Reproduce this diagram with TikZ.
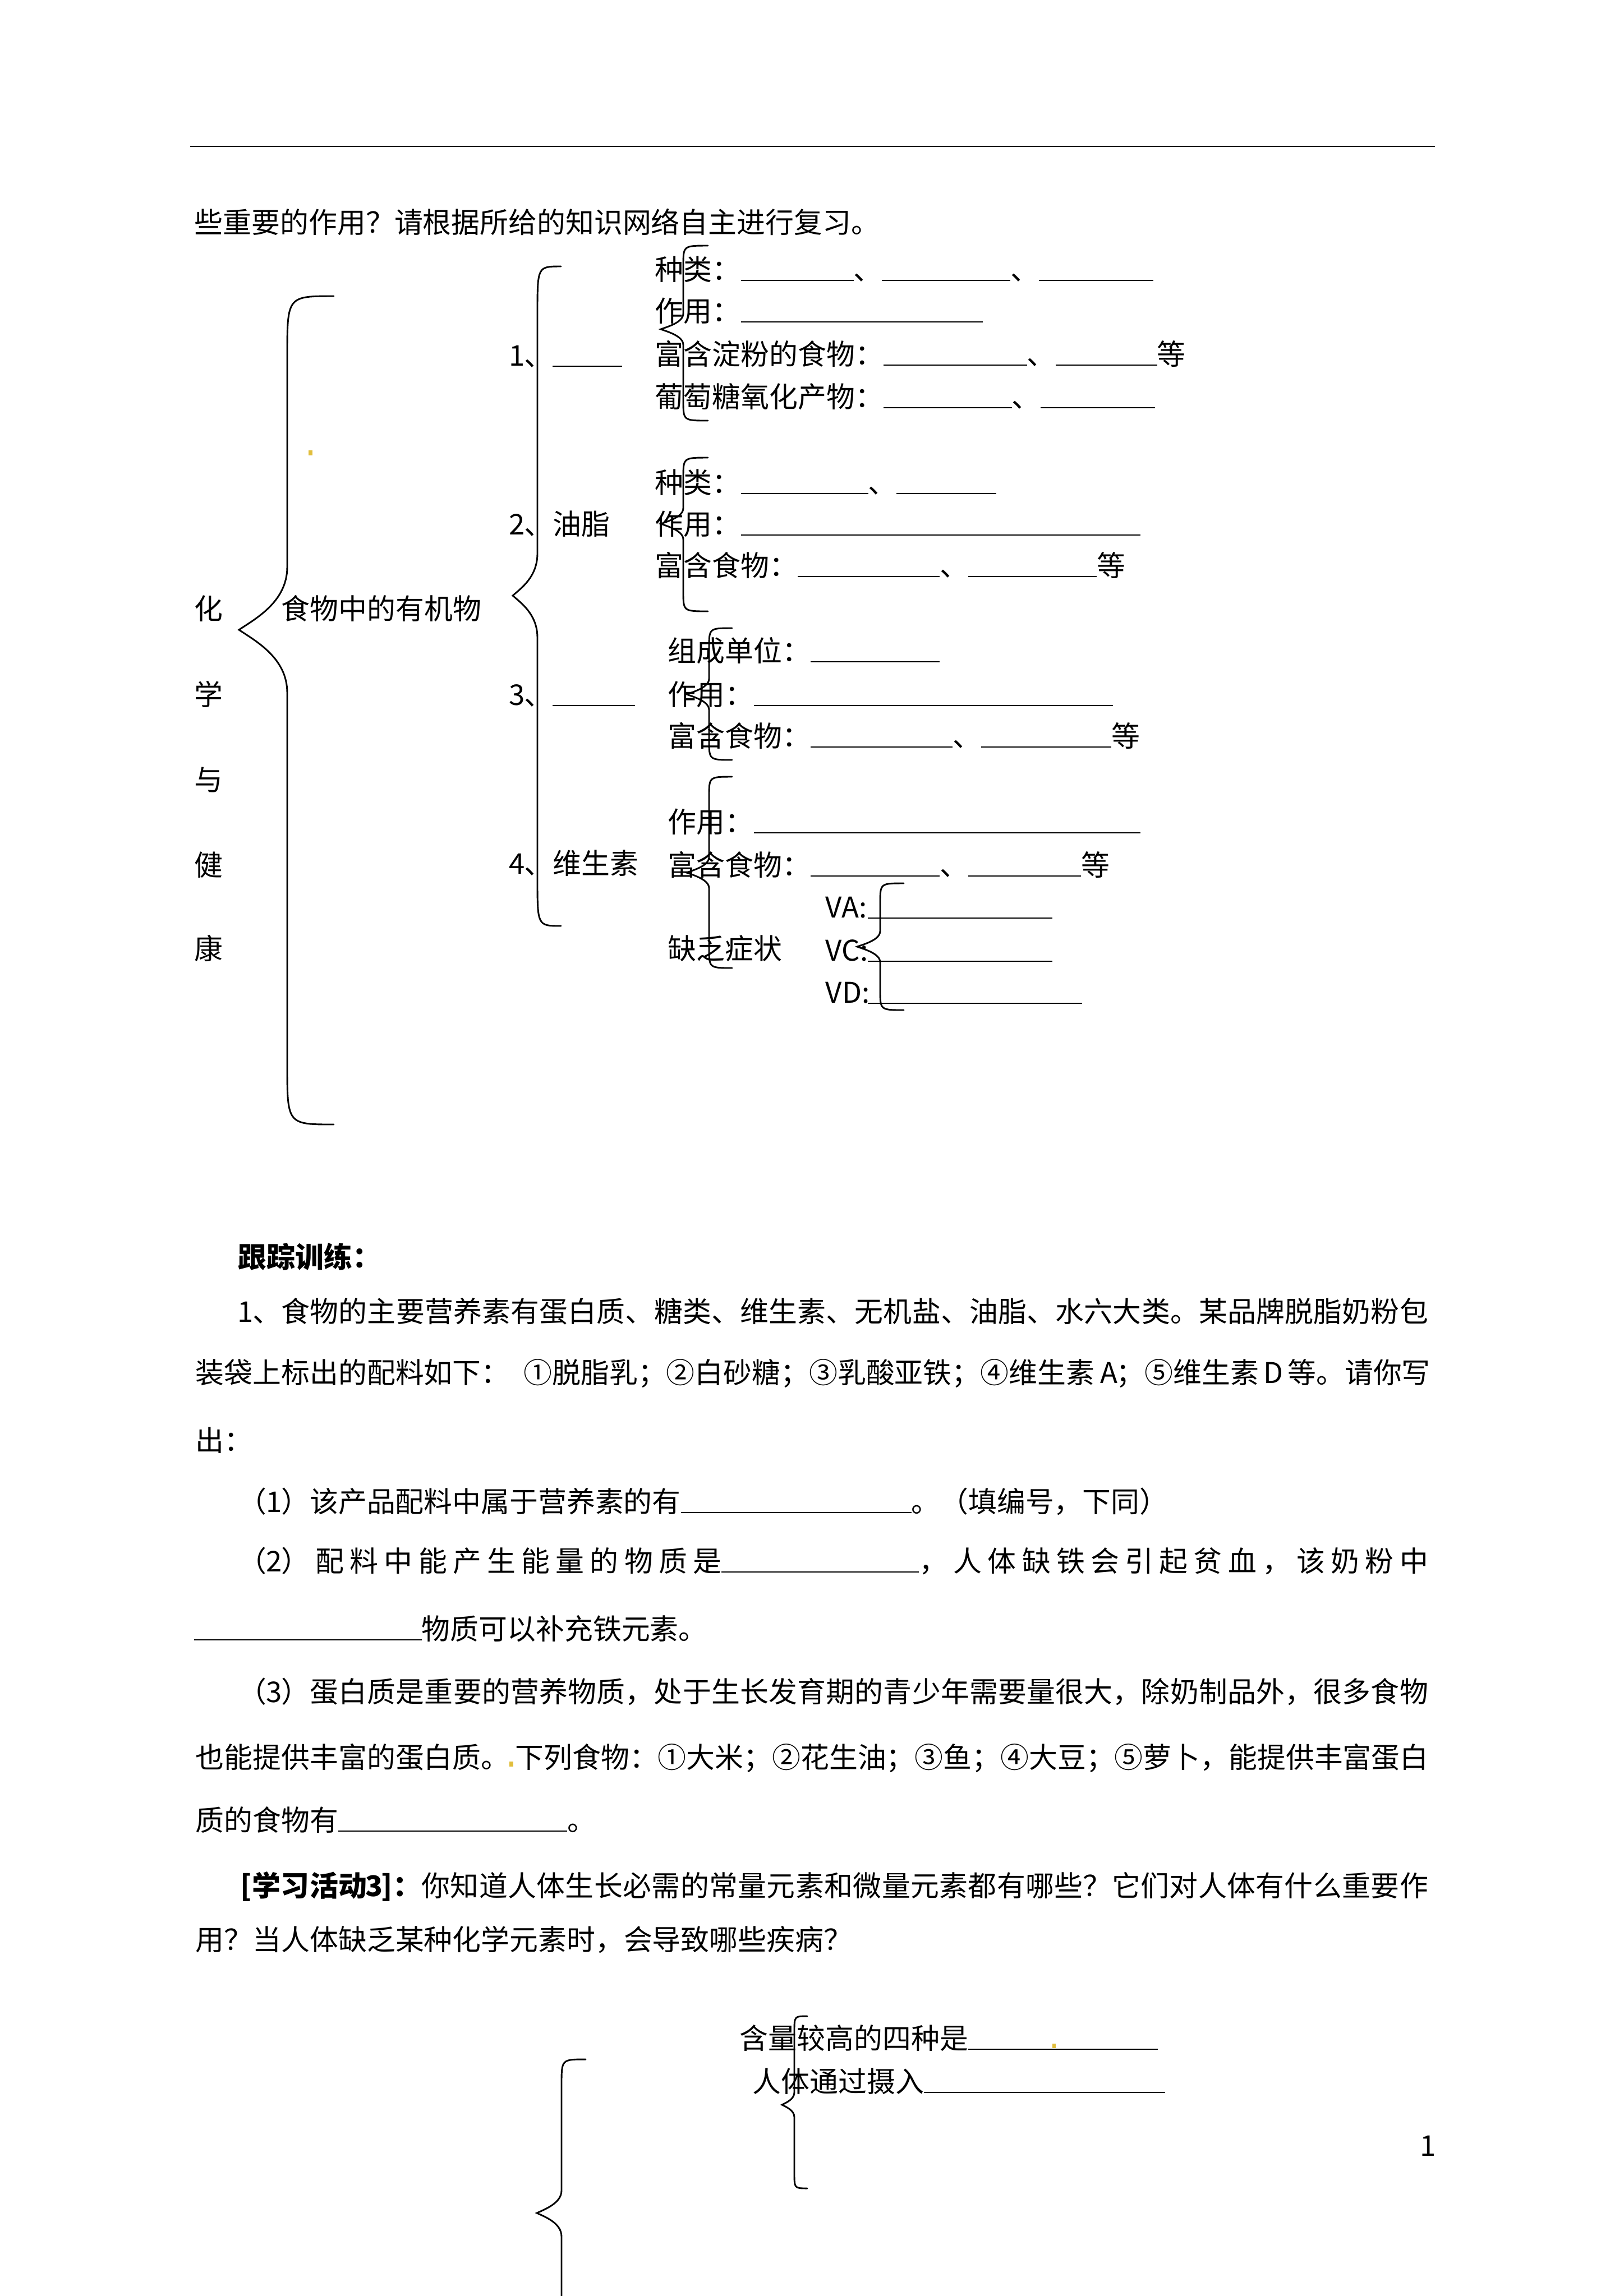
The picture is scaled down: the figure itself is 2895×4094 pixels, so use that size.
\documentclass[tikz,border=0pt]{standalone}
\usepackage{fontspec}
\setmainfont{Noto Sans CJK SC}
\newlength\pxu \setlength\pxu{0.072539mm}
\newcommand\bk[1]{\rule[-0.04em]{#1\pxu}{0.45pt}}
\newcommand\hw[1]{\makebox[25.5\pxu][c]{#1}}
\newcommand\jl[2]{\hbox to #1\pxu{#2}}
\newcommand\cjkglue{\hskip 0pt plus 1fil\relax}
% character classes for inter-character stretching
\newcount\cjkc
\cjkc="4E00
\loop\ifnum\cjkc<"A000 \XeTeXcharclass\cjkc=1 \advance\cjkc by 1 \repeat
\cjkc="2460
\loop\ifnum\cjkc<"2474 \XeTeXcharclass\cjkc=1 \advance\cjkc by 1 \repeat
\XeTeXcharclass"3001=3
\XeTeXcharclass"3002=3
\XeTeXcharclass"FF0C=3
\XeTeXcharclass"FF1A=3
\XeTeXcharclass"FF1B=3
\XeTeXcharclass"FF1F=3
\XeTeXcharclass"FF09=3
\XeTeXcharclass"FF08=2
\XeTeXinterchartokenstate=1
\XeTeXinterchartoks 1 1 = {\cjkglue}
\XeTeXinterchartoks 1 2 = {\cjkglue}
\XeTeXinterchartoks 1 3 = {\cjkglue}
\XeTeXinterchartoks 2 1 = {\cjkglue}
\XeTeXinterchartoks 3 1 = {\cjkglue}
\XeTeXinterchartoks 3 2 = {\cjkglue}
\XeTeXinterchartoks 3 3 = {\cjkglue}
\XeTeXinterchartoks 0 1 = {\cjkglue}
\XeTeXinterchartoks 1 0 = {\cjkglue}
\XeTeXinterchartoks 0 2 = {\cjkglue}
\XeTeXinterchartoks 3 0 = {\cjkglue}
\XeTeXinterchartoks 0 3 = {\cjkglue}
\definecolor{anch}{RGB}{225,190,60}
\tikzset{
  txt/.style={anchor=base west, inner sep=0pt, font=\fontsize{10.5pt}{12pt}\selectfont},
  br/.style={line width=0.6pt, line cap=round},
  toprule/.style={line width=0.5pt}
}
% xEnd, xLine, xTip, yTop, yTip, yBot, r1, r2
\newcommand\cbrace[8]{\draw[br] (#1,#4) .. controls (#2,#4) .. (#2,#4+#7) -- (#2,#5-#8)
  .. controls (#2,{#5-0.45*#8}) and ({#3+0.35*(#2-#3)},{#5-0.18*#8}) .. (#3,#5)
  .. controls ({#3+0.35*(#2-#3)},{#5+0.18*#8}) and (#2,{#5+0.45*#8}) .. (#2,#5+#8)
  -- (#2,#6-#7) .. controls (#2,#6) .. (#1,#6);}
\begin{document}
\begin{tikzpicture}[x=0.072539mm, y=-0.072539mm]
\useasboundingbox (0,0) rectangle (2895,4094);
\fill[white] (0,0) rectangle (2895,4094);
\draw[toprule] (339,261) -- (2558,261);

\node[txt] (hdr) at (346,415) {些重要的作用？请根据所给的知识网络自主进行复习。};

% left vertical title
\node[txt] (c1) at (346,1104) {化};
\node[txt] (c2) at (346,1257) {学};
\node[txt] (c3) at (346,1409) {与};
\node[txt] (c4) at (346,1561) {健};
\node[txt] (c5) at (346,1710) {康};
\node[txt] (org) at (501,1104) {食物中的有机物};

% braces upper part
\cbrace{595}{512}{426}{528}{1123}{2005}{108}{112}
\cbrace{1000}{958}{914}{475}{1062}{1651}{85}{75}
\cbrace{1262}{1218}{1178}{438}{587}{750}{36}{28}
\cbrace{1262}{1218}{1178}{816}{934}{1090}{36}{28}
\cbrace{1305}{1264}{1224}{1120}{1238}{1355}{36}{28}
\cbrace{1305}{1264}{1224}{1385}{1556}{1726}{36}{28}
\cbrace{1611}{1569}{1528}{1575}{1688}{1801}{36}{28}

\fill[anch] (550,803) rectangle (557,812);

% second level labels
\node[txt] (n1) at (908,652) {\hw{1}、\bk{124}};
\node[txt] (n2) at (908,953) {\hw{2}、油脂};
\node[txt] (n3) at (908,1257) {\hw{3}、\bk{147}};
\node[txt] (n4) at (908,1558) {\hw{4}、维生素};

% group 1
\node[txt] (g1a) at (1167,499) {种类：\bk{201}、\bk{229}、\bk{204}};
\node[txt] (g1b) at (1167,573) {作用：\bk{431}};
\node[txt] (g1c) at (1167,650) {富含淀粉的食物：\bk{256}、\bk{181}等};
\node[txt] (g1d) at (1167,726) {葡萄糖氧化产物：\bk{229}、\bk{204}};
% group 2
\node[txt] (g2a) at (1167,879) {种类：\bk{227}、\bk{178}};
\node[txt] (g2b) at (1167,953) {作用：\bk{712}};
\node[txt] (g2c) at (1167,1027) {富含食物：\bk{253}、\bk{229}等};
% group 3
\node[txt] (g3a) at (1190,1179) {组成单位：\bk{230}};
\node[txt] (g3b) at (1190,1257) {作用：\bk{640}};
\node[txt] (g3c) at (1190,1331) {富含食物：\bk{253}、\bk{232}等};
% group 4
\node[txt] (g4a) at (1190,1484) {作用：\bk{689}};
\node[txt] (g4b) at (1190,1561) {富含食物：\bk{230}、\bk{201}等};
\node[txt] (g4c) at (1190,1710) {缺乏症状};
% vitamins
\node[txt] (va) at (1471,1636) {\makebox[75\pxu][l]{VA:}\bk{329}};
\node[txt] (vc) at (1471,1713) {\makebox[75\pxu][l]{VC:}\bk{329}};
\node[txt] (vd) at (1471,1788) {\makebox[75\pxu][l]{VD:}\bk{382}};

% exercises
\node[txt] (trk) at (424,2260) {\textbf{跟踪训练：}};
\node[txt] (p1a) at (424,2357) {\jl{2121}{\hw{1}、食物的主要营养素有蛋白质、糖类、维生素、无机盐、油脂、水六大类。某品牌脱脂奶粉包}};
\node[txt] (p1b) at (348,2466) {\jl{2197}{装袋上标出的配料如下：\hspace{25\pxu}①脱脂乳；②白砂糖；③乳酸亚铁；④维生素\hspace{13\pxu}\hw{A}；⑤维生素\hspace{13\pxu}\hw{D}\hspace{13\pxu}等。请你写}};
\node[txt] (p1c) at (348,2587) {出：};
\node[txt] (q1) at (424,2696) {（\hw{1}）该产品配料中属于营养素的有\bk{411}。（填编号，下同）};
\node[txt] (q2) at (424,2802) {\jl{2121}{（\hw{2}）配料中能产生能量的物质是\bk{352}，人体缺铁会引起贫血，该奶粉中}};
\node[txt] (q2b) at (345,2923) {\bk{406}物质可以补充铁元素。};
\node[txt] (q3) at (424,3035) {\jl{2121}{（\hw{3}）蛋白质是重要的营养物质，处于生长发育期的青少年需要量很大，除奶制品外，很多食物}};
\node[txt] (q3b) at (348,3152) {\jl{2197}{也能提供丰富的蛋白质。\hspace{10\pxu}下列食物：①大米；②花生油；③鱼；④大豆；⑤萝卜，能提供丰富蛋白}};
\fill[anch] (908,3141) rectangle (915,3150);
\node[txt] (q3c) at (348,3264) {质的食物有\bk{408}。};
\node[txt] (act) at (428,3381) {\jl{2117}{\textbf{[学习活动\hw{3}]：}你知道人体生长必需的常量元素和微量元素都有哪些？它们对人体有什么重要作}};
\node[txt] (act2) at (348,3477) {用？当人体缺乏某种化学元素时，会导致哪些疾病？};

% lower braces
\draw[br] (1044,3672) .. controls (1001,3672) .. (1001,3717) -- (1001,3906)
  .. controls (1001,3928) and (972,3939) .. (957,3946)
  .. controls (972,3953) and (1001,3964) .. (1001,3988) -- (1001,4100);
\cbrace{1439}{1416}{1394}{3595}{3753}{3902}{28}{22}

\node[txt] (hl) at (1318,3653) {含量较高的四种是\bk{338}};
\fill[anch] (1876,3644) rectangle (1882,3652);
\node[txt] (hr) at (1341,3730) {人体通过摄入\bk{430}};
\node[txt] (pg) at (2531,3844) {1};
\end{tikzpicture}
\end{document}
